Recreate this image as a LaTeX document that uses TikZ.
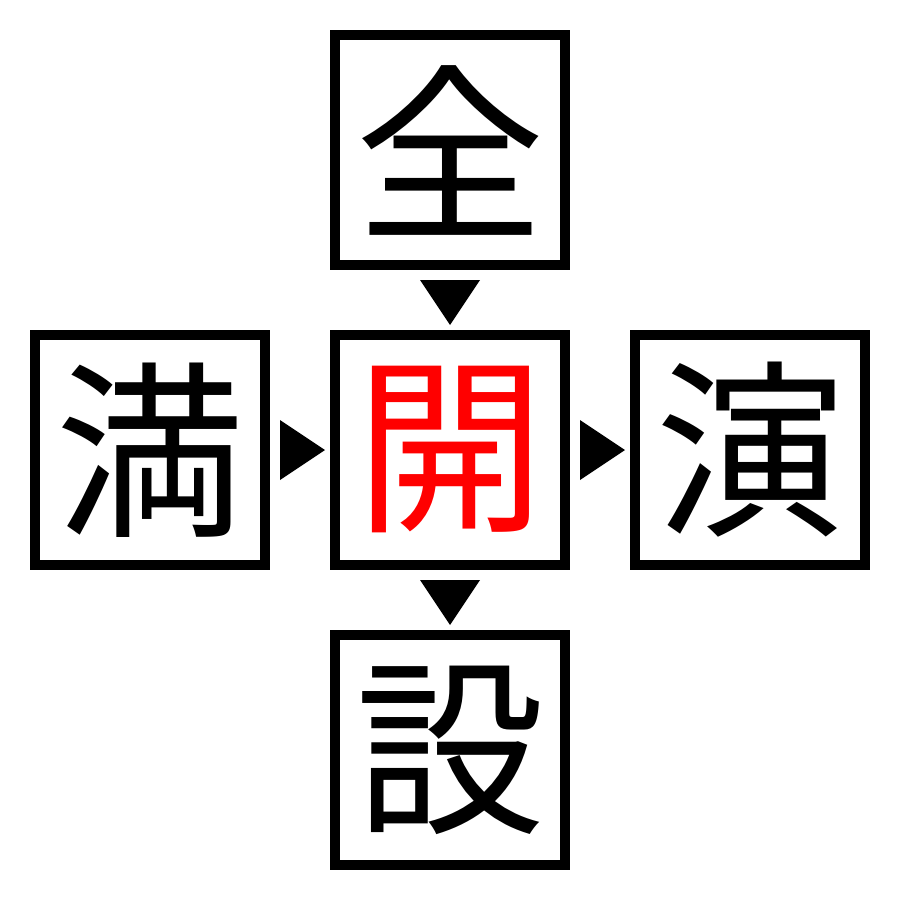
\documentclass[tikz,border=0pt]{standalone}
\usepackage{fontspec}
\newfontfamily\cjk{Noto Sans CJK JP}
\begin{document}
\begin{tikzpicture}[x=0.01cm,y=-0.01cm,
  cbox/.style={draw=black,line width=0.1cm,minimum size=2.3cm,inner sep=0pt,font=\cjk\fontsize{54}{54}\selectfont},
  tri/.style={fill=black}]
\useasboundingbox (0,0) rectangle (900,900);
\node[cbox] (top) at (450,150) {全};
\node[cbox,text=red] (mid) at (450,450) {開};
\node[cbox] (left) at (150,450) {満};
\node[cbox] (right) at (750,450) {演};
\node[cbox] (bot) at (450,750) {設};
\fill[tri] (420,280) -- (480,280) -- (450,325) -- cycle;
\fill[tri] (420,580) -- (480,580) -- (450,625) -- cycle;
\fill[tri] (280,420) -- (280,480) -- (325,450) -- cycle;
\fill[tri] (580,420) -- (580,480) -- (625,450) -- cycle;
\end{tikzpicture}
\end{document}
